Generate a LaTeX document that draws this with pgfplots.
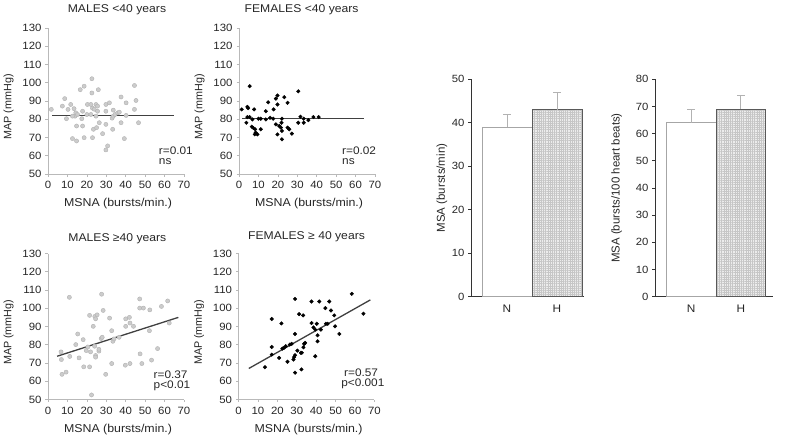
\documentclass[border=0pt]{standalone}
\usepackage{fontspec}
\setmainfont{Liberation Sans}[FakeStretch=1.08]
\newfontfamily\rotfont{Liberation Sans}
\usepackage{pgfplots}
\pgfplotsset{compat=1.18}
\usetikzlibrary{patterns.meta}

\tikzset{note/.style={anchor=north west, align=left, font=\fontsize{11}{10.5}\selectfont, text=black!85, inner sep=0pt}}

\pgfplotsset{
  every axis title shift=0pt,
  scat/.style={
    scale only axis, width=136bp, height=146bp,
    xmin=0, xmax=70, ymin=50, ymax=130,
    xtick={0,10,...,70}, ytick={50,60,...,130},
    axis x line=bottom, axis y line=left,
    axis line style={-, gray!55, line width=0.6bp},
    tick style={gray!55, line width=0.6bp},
    tick align=outside, major tick length=2.5bp,
    /pgf/number format/assume math mode=true,
    tick label style={font=\fontsize{10.6}{11}\selectfont, text=black!85},
    xticklabel style={yshift=-1.5bp},
    yticklabel style={xshift=-0.5bp},
    xlabel style={at={(axis description cs:0.515,-0.205)}, anchor=center, font=\fontsize{11.5}{12}\selectfont, text=black!85},
    ylabel style={at={(axis description cs:-0.29,0.46)}, anchor=center, font=\rotfont\fontsize{10.8}{12}\selectfont, text=black!85},
    title style={anchor=center, font=\fontsize{11.3}{12}\selectfont, text=black!85},
    xlabel={MSNA (bursts/min.)}, ylabel={MAP (mmHg)},
    clip=false,
  },
  grayd/.style={only marks, mark=*, mark size=2.1bp, mark options={fill=gray!40, draw=gray!60, line width=0.4bp}},
  blackd/.style={only marks, mark=*, mark size=1.8bp, mark options={fill=black, draw=black}},
  regl/.style={black!75, line width=1.3bp},
  bars/.style={
    scale only axis, height=217.4bp, ymin=0,
    axis x line=bottom, axis y line=left,
    axis line style={-, black!80, line width=0.8bp},
    ytick style={black!80, line width=0.8bp},
    xtick style={draw=none},
    tick align=outside, major tick length=3bp,
    xtick={0,1}, xticklabels={N,H},
    ybar,
    /pgf/number format/assume math mode=true,
    yticklabel style={font=\fontsize{10.5}{11}\selectfont, text=black!85},
    xticklabel style={font=\fontsize{11}{12}\selectfont, text=black!85, yshift=-1.5bp},
    ylabel style={anchor=center, font=\rotfont\fontsize{11.5}{13}\selectfont, text=black!85},
  },
  nbar/.style={fill=white, draw=gray!70, line width=0.6bp, bar shift=0pt,
    error bars/.cd, y dir=plus, y explicit,
    error bar style={gray!60, line width=0.8bp},
    error mark options={rotate=90, gray!60, mark size=3.8bp, line width=0.8bp}},
  hbar/.style={fill=gray!15, draw=black!65, line width=0.6bp, bar shift=0pt,
    postaction={pattern color=gray!45, pattern={Hatch[distance=2.2bp, line width=0.35bp]}},
    error bars/.cd, y dir=plus, y explicit,
    error bar style={gray!60, line width=0.8bp},
    error mark options={rotate=90, gray!60, mark size=3.8bp, line width=0.8bp}},
}

\begin{document}
\begin{tikzpicture}
\useasboundingbox (0,0) rectangle (785bp,-442bp);

% ---------- MALES <40
\begin{axis}[scat, at={(48bp,-174bp)}, anchor=south west,
  title={MALES <40 years}, title style={at={(axis description cs:0.507,1.123)}}]
\addplot[grayd] coordinates {
(1.7,85.4)(7.4,87.2)(8.6,91.3)(10.3,85.4)(11.7,88.1)(9.5,80.3)(13.4,85.8)(13.9,81.7)
(12.6,81.7)(14.3,83.5)(14.7,76.3)(12.6,69.4)(14.7,68.1)(16.6,96.2)(18.6,98.1)(17.8,76.3)
(17.4,80.3)(17.8,84.4)(18.6,69.9)(20.3,88.1)(20.0,82.6)(22.1,88.1)(22.6,102.2)(22.6,94.4)
(22.9,69.9)(22.9,86.1)(23.8,85.5)(24.7,88.1)(25.5,87.2)(25.9,96.2)(25.5,84.4)(22.1,82.6)
(24.7,81.7)(23.4,74.5)(25.0,75.4)(26.4,78.1)(28.1,72.1)(29.8,88.1)(31.6,89.0)(29.8,84.4)
(29.8,77.2)(30.7,65.4)(29.8,63.2)(33.0,80.6)(33.6,81.7)(34.5,82.6)(33.3,74.5)(35.9,83.5)
(36.7,83.9)(37.6,92.2)(37.6,78.1)(40.2,89.0)(40.2,82.1)(39.3,69.4)(44.5,98.5)(45.3,90.3)
(44.5,85.4)(46.6,78.1)(15.2,82.6)(33.6,85.0)};
\addplot[regl] coordinates {(2.2,82.1) (64.7,82.1)};
\node[note] at (axis cs:57,65) {r=0.01\\ns};
\end{axis}

% ---------- FEMALES <40
\begin{axis}[scat, at={(239bp,-174bp)}, anchor=south west,
  title={FEMALES <40 years}, title style={at={(axis description cs:0.46,1.123)}}]
\addplot[blackd] coordinates {
(1.4,85.4)(4.3,86.8)(4.7,86.1)(5.5,98.1)(4.3,81.2)(5.5,81.2)(3.8,78.1)(7.8,85.4)
(6.6,75.9)(7.4,75.2)(8.3,74.5)(8.6,72.7)(8.1,71.7)(9.5,71.7)(10.0,80.3)(11.2,80.3)
(11.2,74.5)(13.8,79.9)(13.8,84.4)(15.0,89.3)(16.0,80.8)(17.6,80.3)(17.8,85.4)(19.0,91.3)
(19.8,93.0)(19.8,88.1)(19.0,77.2)(19.8,71.7)(21.6,75.4)(22.1,80.3)(21.9,78.1)(22.1,73.6)
(22.1,69.0)(20.7,76.3)(23.3,92.1)(25.0,89.0)(25.0,75.4)(25.9,74.5)(27.2,72.1)(30.5,95.3)
(30.5,78.1)(31.6,81.4)(33.3,80.3)(33.3,78.1)(35.7,79.5)(38.3,81.2)(41.0,81.2)(6.9,79.9)};
\addplot[regl] coordinates {(1.7,80.5) (64.1,80.5)};
\node[note] at (axis cs:53,65) {r=0.02\\ns};
\end{axis}

% ---------- MALES >=40
\begin{axis}[scat, at={(48bp,-399.5bp)}, anchor=south west,
  title={MALES ≥40 years}, title style={at={(axis description cs:0.51,1.104)}}]
\addplot[grayd] coordinates {
(6.7,76.1)(6.9,71.9)(7.2,63.8)(9.3,65.0)(11.2,73.6)(11.0,106.0)(14.3,80.1)(15.3,85.9)
(16.0,72.8)(18.1,82.8)(18.4,67.9)(19.7,76.8)(20.5,78.8)(21.4,67.9)(21.4,96.1)(21.9,76.1)
(23.3,90.1)(24.1,95.5)(24.5,94.2)(25.3,96.4)(24.5,74.1)(24.5,73.2)(24.0,79.2)(26.2,76.5)
(26.2,77.5)(27.4,83.4)(27.6,107.7)(27.9,84.1)(28.4,98.8)(29.7,63.8)(31.7,94.6)(32.8,69.7)
(32.8,87.7)(33.4,81.9)(34.0,83.2)(22.4,52.5)(36.6,84.1)(39.8,68.8)(40.0,94.2)(40.0,90.1)
(41.9,95.0)(42.2,91.9)(42.2,69.7)(44.0,90.1)(47.2,105.1)(47.2,100.1)(49.1,100.1)(47.4,75.0)
(48.3,69.7)(52.4,99.1)(52.2,87.7)(53.3,71.6)(56.4,77.9)(58.4,101.0)(61.6,104.0)(62.4,91.9)};
\addplot[regl] coordinates {(4.7,73.7) (67.1,95.0)};
\node[note] at (axis cs:54.3,65.8) {r=0.37\\p<0.01};
\end{axis}

% ---------- FEMALES >=40
\begin{axis}[scat, at={(238.5bp,-399.5bp)}, anchor=south west,
  title={FEMALES ≥ 40 years}, title style={at={(axis description cs:0.50,1.115)}}]
\addplot[blackd] coordinates {
(13.6,67.7)(17.1,78.8)(17.1,74.6)(17.1,94.1)(20.9,72.8)(22.1,91.7)(22.6,77.9)(23.4,78.3)
(24.3,79.2)(25.2,70.7)(26.4,80.1)(27.4,80.5)(28.3,71.9)(28.6,73.2)(29.1,74.3)(29.1,85.9)
(29.1,105.1)(29.1,64.7)(30.3,76.8)(31.2,96.8)(32.1,75.6)(32.4,66.5)(32.6,75.6)(33.3,96.1)
(33.4,78.6)(33.8,80.5)(34.3,81.0)(37.6,103.7)(37.6,91.9)(38.6,89.5)(39.5,73.7)(40.3,91.5)
(40.7,85.2)(40.7,81.9)(41.6,103.7)(42.4,88.3)(44.7,100.1)(45.0,91.5)(45.9,91.5)(46.7,103.7)
(47.6,98.8)(49.3,96.1)(49.7,90.1)(51.9,85.9)(58.3,107.9)(64.3,97.0)(39.5,88.3)};
\addplot[regl] coordinates {(5.3,67.0) (67.9,104.6)};
\node[note] at (axis cs:52.8,67) {\hspace*{2.9bp}r=0.57\\p<0.001};
\end{axis}

% ---------- Bar chart 1
\begin{axis}[bars, at={(471bp,-296.7bp)}, anchor=south west,
  width=113bp, xmin=-0.72, xmax=1.54, ymax=50, ytick={0,10,...,50},
  bar width=50bp,
  ylabel={MSA (bursts/min)}, ylabel style={at={(axis description cs:-0.257,0.5)}}]
\addplot[nbar] coordinates {(0,39) +- (0,3)};
\addplot[hbar] coordinates {(1,43) +- (0,4)};
\end{axis}

% ---------- Bar chart 2
\begin{axis}[bars, at={(655bp,-296.7bp)}, anchor=south west,
  width=118bp, xmin=-0.73, xmax=1.65, ymax=80, ytick={0,10,...,80},
  bar width=49.5bp,
  ylabel={MSA (bursts/100 heart beats)}, ylabel style={at={(axis description cs:-0.325,0.5)}}]
\addplot[nbar] coordinates {(0,64) +- (0,5)};
\addplot[hbar] coordinates {(1,69) +- (0,5)};
\end{axis}
\end{tikzpicture}
\end{document}
